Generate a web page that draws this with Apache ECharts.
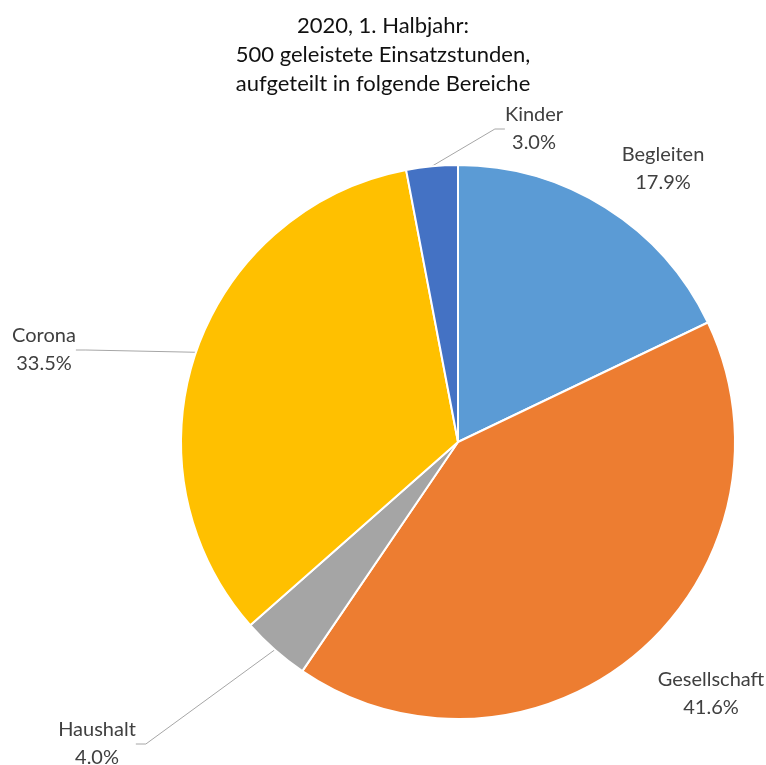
<!DOCTYPE html>
<html>
<head>
<meta charset="utf-8">
<script src="https://cdn.jsdelivr.net/npm/echarts@6/dist/echarts.min.js"></script>
<style>
  html, body { margin: 0; padding: 0; background: #fff; }
  #chart { width: 766px; height: 765px; }
</style>
</head>
<body>
<div id="chart"></div>
<script>
// Bereiche und Anteile (in Prozent der Einsatzstunden)
const categories = ['Begleiten', 'Gesellschaft', 'Haushalt', 'Corona', 'Kinder'];
const shares = [17.9, 41.6, 4.0, 33.5, 3.0];
const colors = ['#5B9BD5', '#ED7D31', '#A5A5A5', '#FFC000', '#4472C4'];
const titleLines = ['2020, 1. Halbjahr:', '500 geleistete Einsatzstunden,', 'aufgeteilt in folgende Bereiche'];

// Label-Positionen je Bereich (Mittelpunkt des Textblocks)
const labelSpots = {
  Begleiten: [663, 169, false],
  Gesellschaft: [711, 694, false],
  Haushalt: [97, 744, true],
  Corona: [44, 350, true],
  Kinder: [534, 129, true]
};

const chart = echarts.init(document.getElementById('chart'));
const font = 'Lato, "Open Sans", sans-serif';

chart.setOption({
  animation: false,
  title: {
    text: titleLines.join('\n'),
    left: 'center',
    top: 6,
    textStyle: {
      fontFamily: font,
      fontSize: 22,
      fontWeight: 'normal',
      color: '#111',
      lineHeight: 29
    }
  },
  series: [{
    type: 'pie',
    center: [458, 442],
    radius: 277,
    startAngle: 90,
    clockwise: true,
    avoidLabelOverlap: false,
    itemStyle: { borderColor: '#fff', borderWidth: 2 },
    label: {
      show: true,
      position: 'outside',
      fontFamily: font,
      fontSize: 20,
      lineHeight: 28,
      color: '#404040',
      align: 'center',
      formatter: p => p.name + '\n' + p.value.toFixed(1) + '%'
    },
    labelLine: {
      show: true,
      length: 10,
      length2: 10,
      lineStyle: { color: '#A6A6A6', width: 1 }
    },
    labelLayout: params => {
      const name = categories[params.dataIndex];
      const s = labelSpots[name];
      return { x: s[0], y: s[1], align: 'center', verticalAlign: 'middle' };
    },
    data: categories.map((name, i) => ({
      name: name,
      value: shares[i],
      itemStyle: { color: colors[i] },
      labelLine: { show: labelSpots[name][2] }
    }))
  }]
});
</script>
</body>
</html>
